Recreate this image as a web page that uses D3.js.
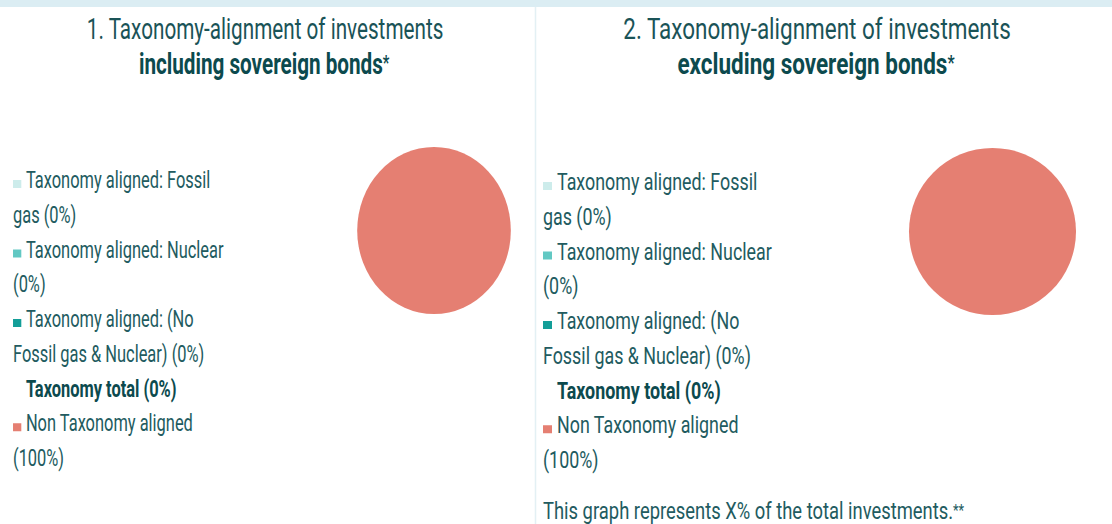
<!DOCTYPE html>
<html>
<head>
<meta charset="utf-8">
<style>
    body { margin: 0; background: #fff; }
    svg text { font-family: Roboto, "Noto Sans", sans-serif; }
</style>
</head>
<body>
<svg id="chart" width="1112" height="524"></svg>
<script src="https://cdn.jsdelivr.net/npm/d3@7"></script>
<script>
    // legend categories and their colours
    const categories = [
        "Taxonomy aligned: Fossil gas",
        "Taxonomy aligned: Nuclear",
        "Taxonomy aligned: (No Fossil gas & Nuclear)",
        "Non Taxonomy aligned"
    ]
    const colors = ["#cdeceb", "#62c8c3", "#139e98", "#e57f72"]

    // values in percent for each chart
    const valuesIncluding = [0, 0, 0, 100]
    const valuesExcluding = [0, 0, 0, 100]

    const titlesIncluding = ["1. Taxonomy-alignment of investments", "including sovereign bonds*"]
    const titlesExcluding = ["2. Taxonomy-alignment of investments", "excluding sovereign bonds*"]

    const totalLabel = "Taxonomy total"
    const footnote = "This graph represents X% of the total investments.**"

    const squeeze = 0.76 // the text in the picture is narrow
    const legendFont = 23.5
    const lineStep = 34.75
    const wrapWidth = 236

    let svg = d3.select("#chart")

    // light top band and the thin divider between the two charts
    svg.append("rect").attr("width", 1112).attr("height", 7).attr("fill", "#dbedf3")
    svg.append("line")
        .attr("x1", 535.5).attr("x2", 535.5).attr("y1", 7).attr("y2", 524)
        .attr("stroke", "#e3f0f4").attr("stroke-width", 1.5)

    // measure a string at a given font size (before squeezing)
    let probe = svg.append("text").attr("visibility", "hidden")
    function measure(str, size, weight) {
        probe.attr("font-size", size).attr("font-weight", weight || 400).text(str)
        return probe.node().getComputedTextLength() * squeeze
    }

    function wrap(str, firstWidth, width) {
        let words = str.split(" ")
        let lines = []
        let cur = ""
        words.forEach(w => {
            let test = cur ? cur + " " + w : w
            let limit = lines.length == 0 ? firstWidth : width
            if (cur && measure(test, legendFont) > limit) {
                lines.push(cur)
                cur = w
            } else {
                cur = test
            }
        })
        if (cur) lines.push(cur)
        return lines
    }

    function addText(g, x, y, str, size, weight, anchor, fill) {
        let t = g.append("g")
            .attr("transform", `translate(${x},${y}) scale(${squeeze},1)`)
            .append("text")
            .attr("font-size", size)
            .attr("font-weight", weight)
            .attr("text-anchor", anchor)
            .attr("fill", fill)
        // trailing asterisks are drawn smaller and raised, as footnote marks
        let m = str.match(/^(.*?)(\*+)$/)
        if (m) {
            t.append("tspan").text(m[1])
            t.append("tspan").attr("font-size", size * 0.7).attr("dy", -size * 0.12).text(m[2])
        } else {
            t.text(str)
        }
    }

    function drawPanel(opt) {
        let g = svg.append("g").attr("transform", `translate(${opt.x},0) scale(${opt.sx},1)`)

        // titles
        addText(g, 280, 39, opt.titles[0], 29.6, 400, "middle", "#1a5357")
        addText(g, 279, 74, opt.titles[1], 29.6, 700, "middle", "#0c4a4e")

        // pie
        let pie = d3.pie().sort(null)(opt.values)
        let arc = d3.arc().innerRadius(0).outerRadius(83.5)
        g.append("g")
            .attr("transform", `translate(${opt.pieX},${opt.pieY})`)
            .selectAll("path")
            .data(pie)
            .enter()
            .append("path")
            .attr("d", arc)
            .attr("fill", (d, i) => colors[i])

        // legend rows
        let rows = []
        let total = d3.sum(opt.values.slice(0, 3))
        categories.forEach((c, i) => {
            if (i == 3) rows.push({ lines: [`${totalLabel} (${total}%)`], color: null, bold: true })
            let lines = wrap(`${c} (${opt.values[i]}%)`, wrapWidth - 14, wrapWidth)
            rows.push({ lines: lines, color: colors[i], bold: false })
        })

        let y = opt.legendY
        rows.forEach(r => {
            r.lines.forEach((ln, k) => {
                if (k == 0 && r.color) {
                    g.append("rect")
                        .attr("x", 6).attr("y", y - 8)
                        .attr("width", 9).attr("height", 8)
                        .attr("fill", r.color)
                }
                let tx = (k == 0) ? 20 : 6
                addText(g, tx, y, ln, legendFont, r.bold ? 700 : 400, "start", r.bold ? "#0c4a4e" : "#225b60")
                y += lineStep
            })
        })

        if (opt.footnote) {
            addText(g, 6, 519, opt.footnote, 24.2, 400, "start", "#225b60")
        }
    }

    drawPanel({ x: 7.5, sx: 0.92, titles: titlesIncluding, values: valuesIncluding, pieX: 463.6, pieY: 230.5, legendY: 188 })
    drawPanel({ x: 537, sx: 1, titles: titlesExcluding, values: valuesExcluding, pieX: 455.5, pieY: 231.5, legendY: 190, footnote: footnote })

    probe.remove()
</script>
</body>
</html>
